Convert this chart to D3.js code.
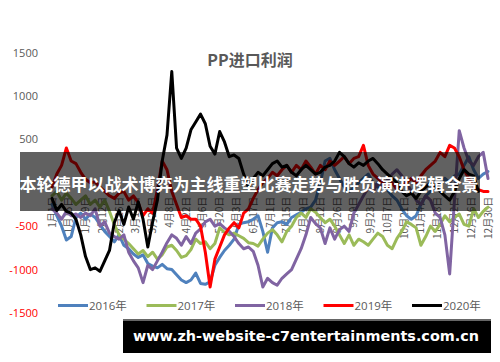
<!DOCTYPE html>
<html>
<head>
<meta charset="utf-8">
<script src="https://cdn.jsdelivr.net/npm/d3@7/dist/d3.min.js"></script>
<style>
  html, body { margin: 0; padding: 0; background: #ffffff; }
  svg { display: block; }
</style>
</head>
<body>
<svg id="chart" width="500" height="362"></svg>
<script>
// ---------------- DATA ----------------
const chartTitle = "PP进口利润";
const overlayTitle = "本轮德甲以战术博弈为主线重塑比赛走势与胜负演进逻辑全景";
const bannerText = "www.zh-website-c7entertainments.com.cn";

const stepDays = 4; // one value every 4 days, starting 1月1日
const yTicks = [1500, 1000, 500, -500, -1000, -1500]; // the 0 label sits hidden under the headline band
const xTickLabels = ["1月1日","1月15日","1月29日","2月12日","2月26日","3月11日","3月25日",
  "4月8日","4月22日","5月6日","5月20日","6月3日","6月17日","7月1日","7月15日","7月29日",
  "8月12日","8月26日","9月9日","9月23日","10月7日","10月21日","11月4日","11月18日",
  "12月2日","12月16日","12月30日"];
const xTickDays = [0,14,28,42,56,70,84,98,112,126,140,154,168,182,196,210,224,238,252,266,280,294,308,322,336,350,364];

const seriesNames = ["2016年","2017年","2018年","2019年","2020年"];
const seriesColors = ["#4F81BD","#9BBB59","#8064A2","#FF0000","#000000"];

const v2016 = [-250,-380,-500,-660,-620,-400,-350,-420,-360,-400,
  -480,-560,-620,-680,-600,-720,-760,-820,-860,-830,
  -930,-960,-980,-940,-990,-1000,-1060,-1120,-1150,-1120,
  -1040,-1160,-1170,-1140,-950,-860,-780,-720,-650,-480,
  -460,-450,-420,-380,-560,-800,-520,-460,-450,-480,
  -400,-370,-340,-300,-280,-200,0,250,280,150,
  50,-50,-100,-60,0,50,100,0,-50,0,
  -80,-150,-200,-300,-380,-420,-380,-250,-150,-100,
  -50,0,50,0,80,100,200,300,150,50,
  100,130];
const v2017 = [-150,-100,-200,-120,-180,-250,-200,-150,-250,-200,
  -280,-200,-330,-480,-600,-650,-700,-760,-820,-780,
  -850,-800,-880,-830,-740,-720,-780,-860,-840,-770,
  -650,-700,-680,-760,-700,-520,-570,-600,-580,-610,
  -640,-690,-700,-730,-650,-580,-540,-600,-680,-560,
  -500,-400,-350,-400,-300,-340,-400,-460,-420,-500,
  -600,-700,-600,-720,-650,-680,-720,-650,-580,-620,
  -720,-760,-640,-560,-450,-480,-520,-720,-620,-500,
  -560,-480,-380,-450,-400,-360,-480,-500,-300,-400,
  -330,-280];
const v2018 = [-300,-350,-420,-330,-380,-360,-400,-350,-380,-300,
  -500,-450,-580,-620,-650,-600,-800,-900,-980,-1150,
  -950,-1000,-900,-800,-690,-600,-640,-720,-620,-700,
  -580,-530,-450,-420,-500,-470,-520,-560,-620,-700,
  -760,-740,-790,-950,-1200,-1100,-1150,-1180,-1100,-1050,
  -1000,-880,-760,-600,-400,-470,-520,-700,-520,-650,
  -540,-500,-560,-350,-250,-150,-60,-100,0,-50,
  30,100,150,80,0,-100,-200,-250,-150,-200,
  -350,-400,-600,-1050,-200,600,400,250,200,300,
  350,50];
const v2019 = [-50,100,200,400,250,220,120,40,0,10,
  -50,-100,-150,-180,-120,-100,-200,-150,-230,-380,
  -300,-350,-80,250,150,-100,-250,-400,-380,-420,
  -420,-500,-800,-1200,-880,-740,-600,-520,-460,-520,
  -350,-300,-180,-80,0,50,120,80,150,200,
  120,200,150,250,180,100,200,150,250,200,
  250,300,220,280,300,430,200,100,50,0,
  -50,0,-80,-30,0,50,0,80,150,200,
  250,350,300,430,400,300,150,50,-50,-80,
  -100,-100];
const v2020 = [-180,-320,-250,-330,-350,-420,-600,-850,-1000,-980,
  -1020,-900,-780,-460,-320,-480,-280,-420,-220,-420,
  -740,-450,-200,250,550,1280,400,280,400,610,
  700,790,680,420,330,590,470,300,320,280,
  100,-50,50,120,80,150,220,250,180,200,
  120,80,150,200,150,100,120,180,200,250,
  350,300,220,180,230,200,250,280,220,150,
  100,50,0,-100,-150,-120,-180,-100,-50,0,
  -50,-100,-150,-200,-100,50,150,100,80,-100];

const seriesValues = [v2016, v2017, v2018, v2019, v2020];

// ---------------- DRAW ----------------
const svg = d3.select("#chart");
const x = d3.scaleLinear().domain([0, 364]).range([52, 488]);
const y = d3.scaleLinear().domain([-1500, 1500]).range([313, 52.5]);

// title
svg.append("text")
  .attr("x", 250).attr("y", 66)
  .attr("text-anchor", "middle")
  .attr("font-family", "'Noto Sans CJK SC', sans-serif")
  .attr("font-size", 16).attr("font-weight", "bold")
  .attr("fill", "#595959")
  .text(chartTitle);

// y axis labels
const yAxis = d3.axisLeft(y).tickValues(yTicks).tickSize(0).tickPadding(0)
  .tickFormat(d => String(d));
const yg = svg.append("g").attr("transform", "translate(38,0)").call(yAxis);
yg.select(".domain").remove();
yg.selectAll("text")
  .attr("font-family", "'Open Sans', 'Noto Sans', sans-serif")
  .attr("font-size", 11)
  .attr("fill", d => d < 0 ? "#FF0000" : "#595959");

// x category labels (rotated) at zero line
const xg = svg.append("g");
xg.selectAll("text").data(xTickLabels).join("text")
  .attr("transform", (d, i) => `translate(${x(xTickDays[i])},${y(0) + 14}) rotate(-90)`)
  .attr("text-anchor", "end")
  .attr("dy", "0.35em")
  .attr("font-family", "'Noto Sans CJK SC', sans-serif")
  .attr("font-size", 10)
  .attr("fill", "#595959")
  .text(d => d);

// series lines
const line = d3.line()
  .x((d, i) => x(i * stepDays))
  .y(d => y(d));

seriesValues.forEach((vals, k) => {
  svg.append("path")
    .datum(vals)
    .attr("d", line)
    .attr("fill", "none")
    .attr("stroke", seriesColors[k])
    .attr("stroke-width", 3)
    .attr("stroke-linejoin", "round")
    .attr("stroke-linecap", "round");
});

// legend
const legend = svg.append("g");
seriesNames.forEach((name, k) => {
  const lx = 58 + k * 88.5;
  legend.append("line")
    .attr("x1", lx).attr("x2", lx + 30)
    .attr("y1", 305.5).attr("y2", 305.5)
    .attr("stroke", seriesColors[k]).attr("stroke-width", 3);
  legend.append("text")
    .attr("x", lx + 31).attr("y", 305.5)
    .attr("dy", "0.36em")
    .attr("font-family", "'Open Sans', 'Noto Sans CJK SC', sans-serif")
    .attr("font-size", 11.5)
    .attr("fill", "#595959")
    .text(name);
});

// overlay band with headline
svg.append("rect")
  .attr("x", 20).attr("y", 152).attr("width", 460).attr("height", 59)
  .attr("fill", "rgba(0,0,0,0.62)");
svg.append("text")
  .attr("x", 249).attr("y", 190.5)
  .attr("text-anchor", "middle")
  .attr("font-family", "'Noto Sans CJK SC', sans-serif")
  .attr("font-size", 17).attr("font-weight", "bold")
  .attr("fill", "#ffffff")
  .text(overlayTitle);

// bottom banner
svg.append("rect")
  .attr("x", 123).attr("y", 319).attr("width", 368).attr("height", 34)
  .attr("fill", "#000000");
svg.append("rect")
  .attr("x", 123).attr("y", 319).attr("width", 368).attr("height", 2)
  .attr("fill", "#666666");
svg.append("text")
  .attr("x", 306).attr("y", 341)
  .attr("text-anchor", "middle")
  .attr("font-family", "'DejaVu Sans', sans-serif")
  .attr("font-size", 14.5).attr("font-weight", "bold")
  .attr("fill", "#ffffff")
  .attr("textLength", 346).attr("lengthAdjust", "spacingAndGlyphs")
  .text(bannerText);
</script>
</body>
</html>
